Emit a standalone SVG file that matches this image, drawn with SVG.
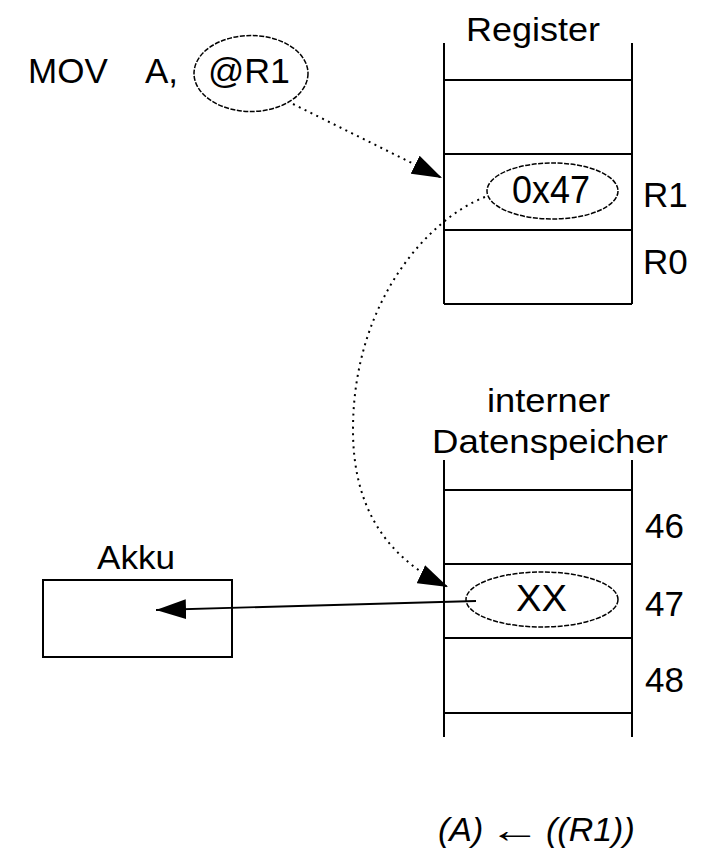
<svg xmlns="http://www.w3.org/2000/svg" width="701" height="851" viewBox="0 0 701 851">
<defs>
<style>
.t{font-family:"Liberation Sans",Arial,sans-serif;font-size:35px;fill:#000}
.it{font-style:italic}
.ln{stroke:#000;stroke-width:2;fill:none}
.ell{stroke:#000;stroke-width:1.5;fill:none;stroke-dasharray:5 1.5}
.dot{stroke:#000;stroke-width:2;fill:none;stroke-dasharray:2 4.5}
.sol{stroke:#000;stroke-width:1.8;fill:none}
</style>
<marker id="ah" viewBox="0 0 30 20" refX="30" refY="10" markerWidth="30" markerHeight="20" markerUnits="userSpaceOnUse" orient="auto">
<path d="M0,0 L30,10 L0,20 z" fill="#000" stroke="none"/>
</marker>
</defs>
<rect width="701" height="851" fill="#fff"/>

<g id="instruction">
<text class="t" x="28" y="83">MOV</text>
<text class="t" x="145" y="83">A,</text>
<ellipse class="ell" cx="251" cy="73.5" rx="57" ry="38"/>
<text class="t" x="208" y="83" textLength="82" lengthAdjust="spacingAndGlyphs">@R1</text>
</g>

<g id="register">
<text class="t" x="466" y="41" style="font-size:34px" textLength="134" lengthAdjust="spacingAndGlyphs">Register</text>
<path class="ln" d="M444,43 V304 M632,43 V304 M444,80 H632 M444,154 H632 M444,230 H632 M444,304 H632"/>
<ellipse class="ell" cx="552.5" cy="191" rx="65.5" ry="28"/>
<text class="t" x="512" y="203" style="font-size:39px" textLength="78" lengthAdjust="spacingAndGlyphs">0x47</text>
<text class="t" x="643" y="207">R1</text>
<text class="t" x="643" y="274">R0</text>
</g>

<g id="datenspeicher">
<text class="t" x="487" y="412" style="font-size:34px" textLength="123" lengthAdjust="spacingAndGlyphs">interner</text>
<text class="t" x="432" y="453" style="font-size:33px" textLength="236" lengthAdjust="spacingAndGlyphs">Datenspeicher</text>
<path class="ln" d="M444,460 V737 M632,460 V737 M444,490 H632 M444,564 H632 M444,638 H632 M444,713 H632"/>
<text class="t" x="645" y="538">46</text>
<text class="t" x="645" y="616">47</text>
<text class="t" x="645" y="692">48</text>
</g>

<g id="akku">
<text class="t" x="97" y="569" style="font-size:34px" textLength="78" lengthAdjust="spacingAndGlyphs">Akku</text>
<rect class="ln" x="43" y="580" width="189" height="77"/>
</g>

<g id="connectors">
<path class="dot" d="M293,104 L442,178" marker-end="url(#ah)"/>
<path class="dot" d="M485,197 C430,218 353,300 353,430 C353,500 380,555 448,587" marker-end="url(#ah)"/>
<path class="sol" d="M476,601 L156,610" marker-end="url(#ah)"/>
</g>

<g id="xx">
<ellipse class="ell" cx="542" cy="599.5" rx="76" ry="27.5"/>
<text class="t" x="516" y="611" style="font-size:36px" textLength="51" lengthAdjust="spacingAndGlyphs">XX</text>
</g>

<g id="formula">
<text class="t it" x="438" y="841" style="font-size:34px">(A)</text>
<text class="t" x="489" y="842" style="font-size:36px" textLength="52" lengthAdjust="spacingAndGlyphs">←</text>
<text class="t it" x="546" y="841" style="font-size:34px">((R1))</text>
</g>
</svg>
